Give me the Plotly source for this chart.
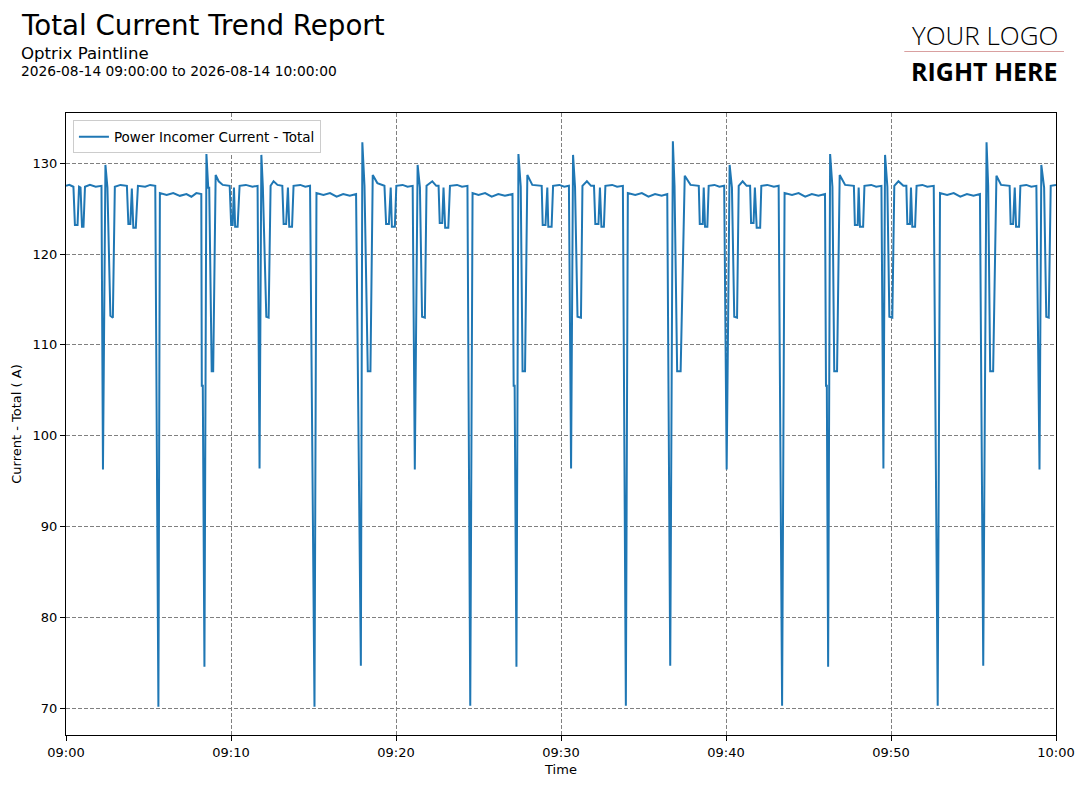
import pandas as pd
import plotly.graph_objects as go

# chart text
title = "Total Current Trend Report"
subtitle = "Optrix Paintline"
period = "2026-08-14 09:00:00 to 2026-08-14 10:00:00"
series_name = "Power Incomer Current - Total"
start = "2026-08-14 09:00:00"
end = "2026-08-14 10:00:00"

# minutes after 09:00
minutes = [
    0.00, 0.20, 0.45, 0.54, 0.70, 0.79, 0.88, 0.97, 1.06, 1.15, 1.45, 1.80,
    2.15, 2.24, 2.39, 2.51, 2.69, 2.84, 2.96, 3.30, 3.69, 3.78, 3.90, 3.99,
    4.08, 4.23, 4.36, 4.80, 5.10, 5.41, 5.60, 5.69, 6.10, 6.50, 6.90, 7.30,
    7.60, 7.90, 8.20, 8.23, 8.29, 8.39, 8.51, 8.62, 8.68, 8.83, 8.92, 9.07,
    9.25, 9.50, 9.92, 10.01, 10.10, 10.18, 10.25, 10.40, 10.52, 10.90, 11.30,
    11.61, 11.73, 11.84, 11.93, 12.14, 12.28, 12.40, 12.58, 12.82, 13.11,
    13.19, 13.34, 13.45, 13.53, 13.70, 13.79, 14.20, 14.50, 14.79, 15.06,
    15.18, 15.60, 16.00, 16.40, 16.80, 17.20, 17.58, 17.87, 17.96, 18.09,
    18.29, 18.45, 18.59, 18.87, 19.30, 19.40, 19.57, 19.68, 19.75, 19.93,
    20.02, 20.40, 20.70, 21.01, 21.14, 21.31, 21.45, 21.58, 21.75, 21.85,
    22.20, 22.44, 22.58, 22.65, 22.80, 22.88, 22.98, 23.17, 23.27, 23.70,
    24.00, 24.33, 24.50, 24.64, 25.00, 25.40, 25.80, 26.20, 26.60, 27.06,
    27.13, 27.19, 27.30, 27.42, 27.56, 27.67, 27.82, 27.96, 28.26, 28.83,
    28.89, 29.06, 29.17, 29.23, 29.43, 29.52, 29.90, 30.20, 30.48, 30.61,
    30.73, 30.85, 31.00, 31.21, 31.30, 31.57, 31.82, 32.00, 32.08, 32.27,
    32.36, 32.45, 32.60, 32.69, 33.10, 33.40, 33.75, 33.93, 34.05, 34.50,
    34.90, 35.30, 35.70, 36.10, 36.44, 36.62, 36.78, 36.88, 37.04, 37.25,
    37.50, 37.85, 38.35, 38.41, 38.59, 38.65, 38.73, 38.87, 38.95, 39.30,
    39.60, 39.89, 40.04, 40.22, 40.36, 40.50, 40.67, 40.77, 41.01, 41.25,
    41.46, 41.52, 41.67, 41.75, 41.86, 42.07, 42.14, 42.50, 42.90, 43.19,
    43.40, 43.55, 44.00, 44.40, 44.80, 45.20, 45.60, 46.00, 46.06, 46.11,
    46.19, 46.31, 46.45, 46.56, 46.73, 46.89, 47.22, 47.75, 47.81, 47.98,
    48.04, 48.12, 48.31, 48.39, 48.80, 49.10, 49.42, 49.54, 49.64, 49.78,
    49.90, 50.08, 50.20, 50.45, 50.75, 50.93, 50.99, 51.15, 51.21, 51.29,
    51.46, 51.55, 51.90, 52.20, 52.59, 52.83, 52.97, 53.40, 53.80, 54.20,
    54.60, 55.00, 55.39, 55.59, 55.79, 55.89, 56.01, 56.19, 56.39, 56.67,
    57.19, 57.25, 57.40, 57.50, 57.58, 57.76, 57.84, 58.20, 58.50, 58.81,
    59.00, 59.11, 59.28, 59.41, 59.56, 59.68, 60.00,
]

# amps at those times
current = [
    127.5, 127.6, 127.4, 123.2, 123.2, 127.4, 127.3, 123.0, 123.0, 127.4, 127.6, 127.4,
    127.5, 96.3, 129.8, 127.3, 113.2, 113.0, 127.4, 127.6, 127.5, 123.3, 123.3, 127.2,
    122.9, 122.9, 127.5, 127.4, 127.6, 127.5, 70.2, 126.7, 126.5, 126.7, 126.4, 126.6,
    126.3, 126.7, 126.6, 105.5, 105.5, 74.6, 131.0, 127.3, 127.3, 107.1, 107.1, 128.7,
    128.0, 127.6, 127.5, 123.2, 123.2, 127.3, 123.0, 123.0, 127.5, 127.6, 127.4,
    127.5, 96.4, 130.9, 127.4, 113.1, 113.0, 127.5, 128.0, 127.6, 127.5,
    123.3, 123.3, 127.3, 123.0, 123.0, 127.5, 127.6, 127.4, 127.5, 70.2,
    126.7, 126.5, 126.7, 126.3, 126.6, 126.4, 126.6, 74.7, 132.3, 127.5,
    107.1, 107.1, 128.7, 127.8, 127.5, 123.3, 123.3, 127.3, 123.0, 123.0,
    127.5, 127.6, 127.4, 127.5, 96.3, 129.8, 127.3, 113.1, 113.0, 127.5,
    128.0, 127.5, 127.5, 123.4, 123.4, 127.3, 122.9, 122.9, 127.5, 127.6,
    127.4, 127.5, 70.3, 126.7, 126.5, 126.7, 126.3, 126.6, 126.4, 126.6,
    105.5, 105.5, 74.6, 131.0, 127.4, 107.1, 107.1, 128.7, 127.6, 127.5,
    123.2, 123.2, 127.3, 123.0, 123.0, 127.5, 127.6, 127.4, 127.5, 96.4,
    130.9, 127.4, 113.1, 113.0, 127.5, 128.0, 127.5, 127.5, 123.3, 123.3,
    127.3, 123.0, 123.0, 127.5, 127.6, 127.4, 127.5, 70.3, 126.7, 126.5,
    126.7, 126.3, 126.6, 126.4, 126.6, 74.7, 132.4, 127.5, 107.1, 107.1,
    128.6, 127.6, 127.5, 123.3, 123.3, 127.3, 123.0, 123.0, 127.5, 127.6,
    127.4, 127.5, 96.3, 129.8, 127.3, 113.1, 113.0, 127.5, 128.0, 127.5,
    127.5, 123.4, 123.4, 127.3, 122.9, 122.9, 127.5, 127.6, 127.4, 127.5,
    70.3, 126.7, 126.5, 126.7, 126.3, 126.6, 126.4, 126.6, 105.5, 105.5,
    74.6, 131.0, 127.4, 107.1, 107.1, 128.7, 127.6, 127.5, 123.2, 123.2,
    127.3, 123.0, 123.0, 127.5, 127.6, 127.4, 127.5, 96.4, 130.9, 127.4,
    113.1, 113.0, 127.5, 128.0, 127.5, 127.5, 123.3, 123.3, 127.3, 123.0,
    123.0, 127.5, 127.6, 127.4, 127.5, 70.3, 126.7, 126.5, 126.7, 126.3,
    126.6, 126.4, 126.6, 74.7, 132.3, 127.5, 107.1, 107.1, 128.6, 127.6,
    127.5, 123.3, 123.3, 127.3, 123.0, 123.0, 127.5, 127.6, 127.4, 127.5,
    96.3, 129.8, 127.3, 113.1, 113.0, 127.5, 127.6,
]

times = pd.Timestamp(start) + pd.to_timedelta(minutes, unit="m")

W, H = 1087, 788
L, R, T, B = 66, 29, 113, 53
pw, ph = W - L - R, H - T - B


def px(x):
    return (x - L) / pw


def py(y):
    return (H - B - y) / ph


fig = go.Figure()
fig.add_trace(go.Scatter(x=times, y=current, mode="lines", name=series_name,
                         line=dict(color="#1f77b4", width=2)))

axis_style = dict(showgrid=True, gridcolor="#808080", gridwidth=0.8, griddash="4px,2px",
                  showline=True, linecolor="black", linewidth=1, mirror=True,
                  ticks="outside", ticklen=5, tickwidth=1, tickcolor="black",
                  tickfont=dict(size=13, color="black"), zeroline=False)

fig.update_xaxes(axis_style, type="date", range=[start, end], dtick=600000,
                 tickformat="%H:%M", title=dict(text="Time", font=dict(size=13), standoff=6))
fig.update_yaxes(axis_style, range=[67.09, 135.51], tick0=70, dtick=10,
                 title=dict(text="Current - Total ( A)", font=dict(size=13), standoff=8))

notes = [
    dict(text=title, x=px(19), y=py(25), font=dict(size=27.7), xanchor="left"),
    dict(text=subtitle, x=px(19), y=py(54), font=dict(size=16.6), xanchor="left"),
    dict(text=period, x=px(19), y=py(71), font=dict(size=13.8), xanchor="left"),
    dict(text="YOUR LOGO", x=px(987), y=py(35),
         font=dict(size=26, family="Open Sans", weight=300), xanchor="center"),
    dict(text="<b>RIGHT HERE</b>", x=px(986), y=py(71),
         font=dict(size=25, family="Open Sans"), xanchor="center"),
]
for n in notes:
    fig.add_annotation(xref="paper", yref="paper", showarrow=False, yanchor="middle", **n)

fig.add_shape(type="line", xref="paper", yref="paper", x0=px(906), x1=px(1066),
              y0=py(51.5), y1=py(51.5), line=dict(color="#d9a0a0", width=1))

fig.update_layout(
    width=W, height=H, margin=dict(l=L, r=R, t=T, b=B),
    paper_bgcolor="white", plot_bgcolor="white",
    font=dict(family="DejaVu Sans", color="black", size=13),
    showlegend=True,
    legend=dict(x=0.007, y=0.988, xanchor="left", yanchor="top", bgcolor="white",
                bordercolor="#cccccc", borderwidth=1, font=dict(size=13.5)),
)

fig.write_html("out.html", config={"displayModeBar": False},
               post_script="document.body.style.margin='0px';"
                           "document.body.style.overflow='hidden';")
